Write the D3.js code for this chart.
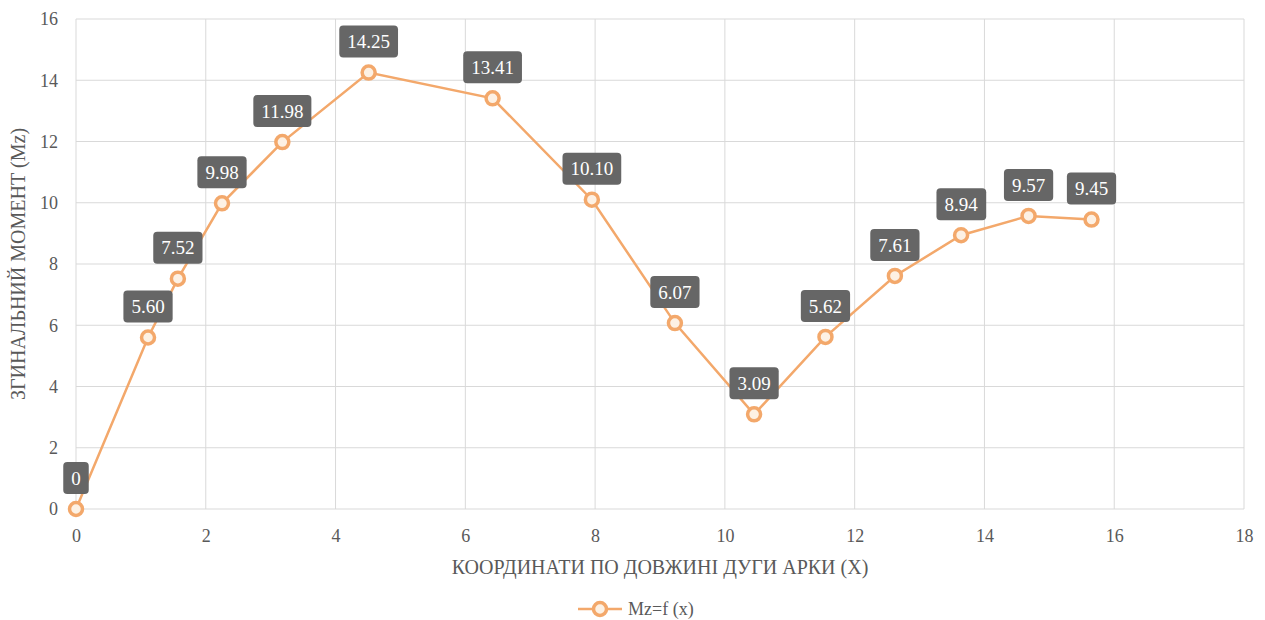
<!DOCTYPE html>
<html><head><meta charset="utf-8">
<script src="https://cdn.jsdelivr.net/npm/d3@7"></script>
<style>body{margin:0;background:#fff}svg{display:block}text{font-family:"Liberation Serif","DejaVu Serif",serif}</style>
</head><body><svg id="c" width="1265" height="620"></svg>
<script>
const xValues = [0, 1.11, 1.57, 2.25, 3.18, 4.51, 6.42, 7.95, 9.23, 10.45, 11.55, 12.62, 13.64, 14.68, 15.65];
const yValues = [0, 5.60, 7.52, 9.98, 11.98, 14.25, 13.41, 10.10, 6.07, 3.09, 5.62, 7.61, 8.94, 9.57, 9.45];
const labels = ["0","5.60","7.52","9.98","11.98","14.25","13.41","10.10","6.07","3.09","5.62","7.61","8.94","9.57","9.45"];
const xTicks = [0,2,4,6,8,10,12,14,16,18];
const yTicks = [0,2,4,6,8,10,12,14,16];
const seriesName = "Mz=f (x)";
const xTitle = "КООРДИНАТИ ПО ДОВЖИНІ ДУГИ АРКИ (X)";
const yTitle = "ЗГИНАЛЬНИЙ МОМЕНТ (Mz)";

const svg = d3.select("#c");
const font = '"Liberation Serif","DejaVu Serif",serif';
const txt = "#595959";
const orange = "#F3A86B";
const x = d3.scaleLinear().domain([0,18]).range([76,1244]);
const y = d3.scaleLinear().domain([0,16]).range([509,19]);

const g = svg.append("g");
g.selectAll(".gx").data(xTicks).join("line")
  .attr("x1",d=>x(d)).attr("x2",d=>x(d)).attr("y1",y(0)).attr("y2",y(16))
  .attr("stroke","#d9d9d9").attr("stroke-width",1);
g.selectAll(".gy").data(yTicks).join("line")
  .attr("y1",d=>y(d)).attr("y2",d=>y(d)).attr("x1",x(0)).attr("x2",x(18))
  .attr("stroke","#d9d9d9").attr("stroke-width",1);

const xa = svg.append("g").attr("transform",`translate(0,${y(0)})`)
  .call(d3.axisBottom(x).tickValues(xTicks).tickSize(0).tickPadding(20));
const ya = svg.append("g").attr("transform",`translate(${x(0)},0)`)
  .call(d3.axisLeft(y).tickValues(yTicks).tickSize(0).tickPadding(18));
[xa,ya].forEach(a=>{a.attr("font-family",null).attr("font-size",null);a.select(".domain").remove();
  a.selectAll("text").attr("fill",txt).style("font-family",font).style("font-size","18px");});

svg.append("text").attr("x",(x(0)+x(18))/2).attr("y",574).attr("text-anchor","middle")
  .attr("fill",txt).style("font-family",font).style("font-size","20px").text(xTitle);
svg.append("text").attr("transform",`translate(25,${(y(0)+y(16))/2}) rotate(-90)`).attr("text-anchor","middle")
  .attr("fill",txt).style("font-family",font).style("font-size","20px").text(yTitle);

const data = xValues.map((v,i)=>({x:v,y:yValues[i],l:labels[i]}));
svg.append("path").datum(data)
  .attr("d",d3.line().x(d=>x(d.x)).y(d=>y(d.y)))
  .attr("fill","none").attr("stroke",orange).attr("stroke-width",2.5);
svg.selectAll(".pt").data(data).join("circle")
  .attr("cx",d=>x(d.x)).attr("cy",d=>y(d.y)).attr("r",6.5)
  .attr("fill","#fdf1e4").attr("stroke",orange).attr("stroke-width",3.5);

const lab = svg.selectAll(".lab").data(data).join("g")
  .attr("transform",d=>`translate(${x(d.x)},${y(d.y)-31})`);
lab.append("text").attr("text-anchor","middle").attr("dy","0.35em")
  .attr("fill","#fff").style("font-family",font).style("font-size","19px").text(d=>d.l)
  .each(function(){
    const b=this.getBBox();
    d3.select(this.parentNode).insert("rect","text")
      .attr("x",b.x-8).attr("y",-16).attr("width",b.width+16).attr("height",32)
      .attr("rx",4).attr("fill","#666666");
  });

const lg = svg.append("g").attr("transform","translate(0,609)");
lg.append("line").attr("x1",578).attr("x2",622).attr("stroke",orange).attr("stroke-width",2.5);
lg.append("circle").attr("cx",600).attr("r",6.5).attr("fill","#fdf1e4").attr("stroke",orange).attr("stroke-width",3.5);
lg.append("text").attr("x",628).attr("dy","0.35em").attr("fill",txt)
  .style("font-family",font).style("font-size","18px").text(seriesName);
</script></body></html>
